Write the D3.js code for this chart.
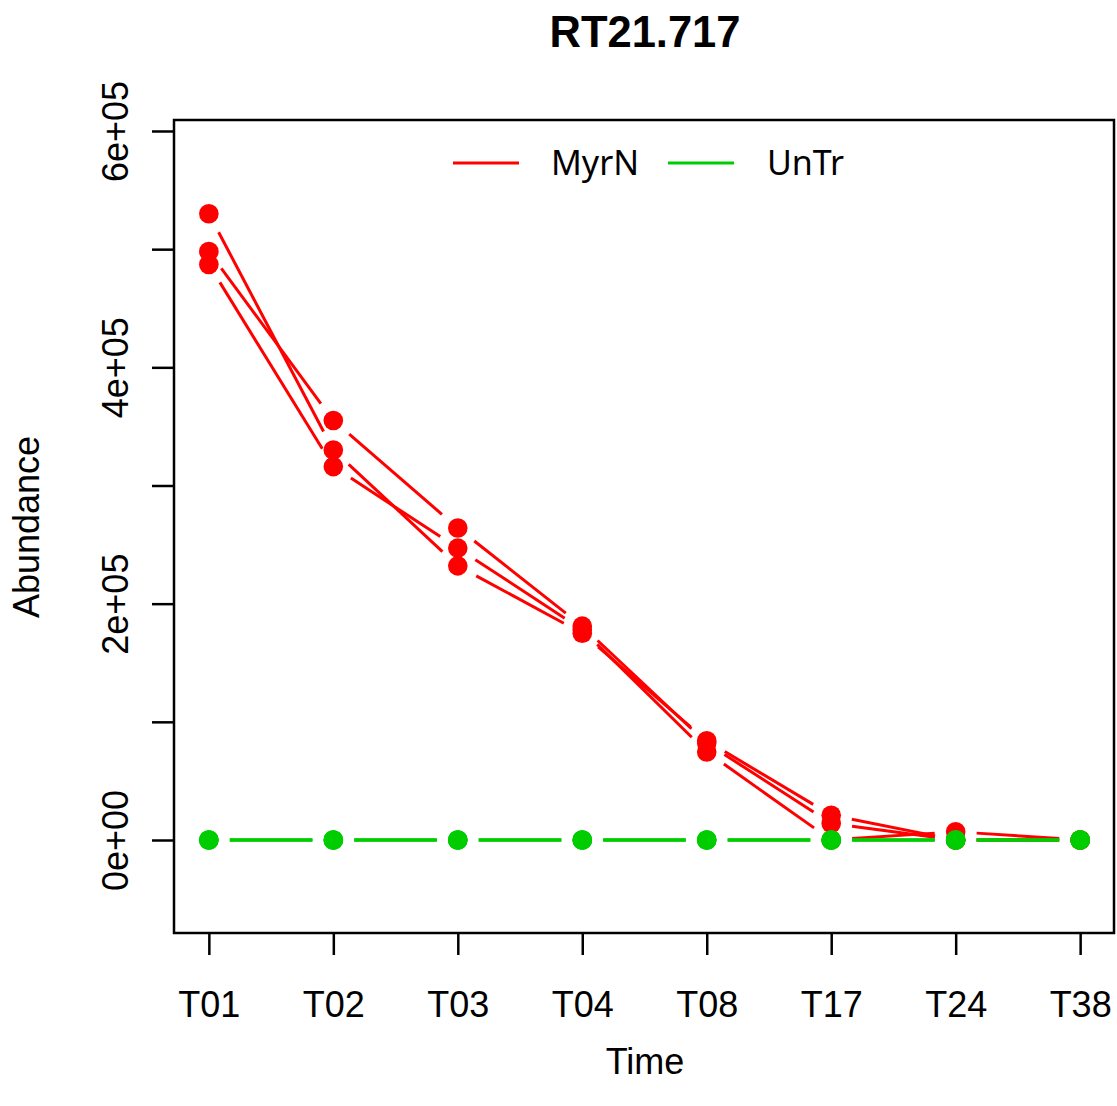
<!DOCTYPE html>
<html><head><meta charset="utf-8">
<script src="https://cdn.jsdelivr.net/npm/d3@7"></script>
<style>html,body{margin:0;padding:0;background:#fff;} svg{display:block;}</style>
</head><body>
<script>
const timepoints = ["T01","T02","T03","T04","T08","T17","T24","T38"];
const myrN_rep1 = [530000, 330000, 232000, 175000, 84000, 21000, 0, 0];
const myrN_rep2 = [498000, 355000, 264000, 181000, 82000, 14000, 0, 0];
const myrN_rep3 = [487000, 316000, 247000, 178000, 74500, 0, 7000, 0];
const untr_rep1 = [0, 0, 0, 0, 0, 0, 0, 0];
const untr_rep2 = [0, 0, 0, 0, 0, 0, 0, 0];
const untr_rep3 = [0, 0, 0, 0, 0, 0, 0, 0];
const groups = ["MyrN", "UnTr"];
const groupColors = ["#FF0000", "#00CD00"];
const yTicks = [0, 100000, 200000, 300000, 400000, 500000, 600000];
const yTickLabels = ["0e+00", "", "2e+05", "", "4e+05", "", "6e+05"];
const title = "RT21.717";

const W = 1117, H = 1106;
const L = 174, R = 1115, T = 120, B = 933;
const svg = d3.select("body").append("svg").attr("width", W).attr("height", H);
const font = "'Liberation Sans', Arial, sans-serif";
const fs = 36;

const x = d3.scaleLinear().domain([0.72, 8.28]).range([L, R]);
const y = d3.scaleLinear().domain([-78700, 609300]).range([B, T]);

// title
svg.append("text").attr("x", 645).attr("y", 47).attr("text-anchor", "middle")
  .attr("font-family", font).attr("font-weight", "bold").attr("font-size", 43.5).text(title);

// axes
const xAxis = d3.axisBottom(x).tickValues(d3.range(1, timepoints.length + 1))
  .tickFormat(i => timepoints[i - 1]).tickSize(22).tickSizeOuter(0).tickPadding(36);
const gx = svg.append("g").attr("transform", `translate(0,${B})`).call(xAxis);
gx.select(".domain").remove();
gx.selectAll("line").attr("stroke", "#000").attr("stroke-width", 2.5);
gx.selectAll("text").attr("font-family", font).attr("font-size", fs).attr("fill", "#000");

const yAxis = d3.axisLeft(y).tickValues(yTicks).tickFormat((d, i) => yTickLabels[i])
  .tickSize(22).tickSizeOuter(0).tickPadding(0);
const gy = svg.append("g").attr("transform", `translate(${L},0)`).call(yAxis);
gy.select(".domain").remove();
gy.selectAll("line").attr("stroke", "#000").attr("stroke-width", 2.5);
gy.selectAll("text").attr("font-family", font).attr("font-size", fs).attr("fill", "#000")
  .attr("x", null).attr("dy", null)
  .attr("text-anchor", "middle")
  .attr("transform", "translate(-46,0) rotate(-90)");

// box
svg.append("rect").attr("x", L).attr("y", T).attr("width", R - L - 1).attr("height", B - T)
  .attr("fill", "none").attr("stroke", "#000").attr("stroke-width", 2.5);

// axis titles
svg.append("text").attr("x", 645).attr("y", 1074).attr("text-anchor", "middle")
  .attr("font-family", font).attr("font-size", fs).text("Time");
svg.append("text").attr("transform", "translate(39,527) rotate(-90)").attr("text-anchor", "middle")
  .attr("font-family", font).attr("font-size", fs).text("Abundance");

// series (type = "b": points + gapped lines)
const series = [
  {g: 0, v: myrN_rep1}, {g: 0, v: myrN_rep2}, {g: 0, v: myrN_rep3},
  {g: 1, v: untr_rep1}, {g: 1, v: untr_rep2}, {g: 1, v: untr_rep3}
];
const gap = 21;
const plot = svg.append("g");
series.forEach(s => {
  const col = groupColors[s.g];
  const pts = s.v.map((v, i) => [x(i + 1), y(v)]);
  for (let i = 0; i < pts.length - 1; i++) {
    const [x0, y0] = pts[i], [x1, y1] = pts[i + 1];
    const dx = x1 - x0, dy = y1 - y0, len = Math.hypot(dx, dy);
    if (len <= 2 * gap) continue;
    const ux = dx / len, uy = dy / len;
    plot.append("line")
      .attr("x1", x0 + ux * gap).attr("y1", y0 + uy * gap)
      .attr("x2", x1 - ux * gap).attr("y2", y1 - uy * gap)
      .attr("stroke", col).attr("stroke-width", 3);
  }
  plot.selectAll(null).data(pts).enter().append("circle")
    .attr("cx", d => d[0]).attr("cy", d => d[1]).attr("r", 9.8).attr("fill", col);
});

// legend
const legX = [453, 668], legTextX = [551, 767];
groups.forEach((g, i) => {
  svg.append("line").attr("x1", legX[i]).attr("x2", legX[i] + 66).attr("y1", 163).attr("y2", 163)
    .attr("stroke", groupColors[i]).attr("stroke-width", 3);
  svg.append("text").attr("x", legTextX[i]).attr("y", 163).attr("dy", "0.36em")
    .attr("font-family", "'Noto Sans', sans-serif").attr("font-size", 34).text(g);
});
</script>
</body></html>
